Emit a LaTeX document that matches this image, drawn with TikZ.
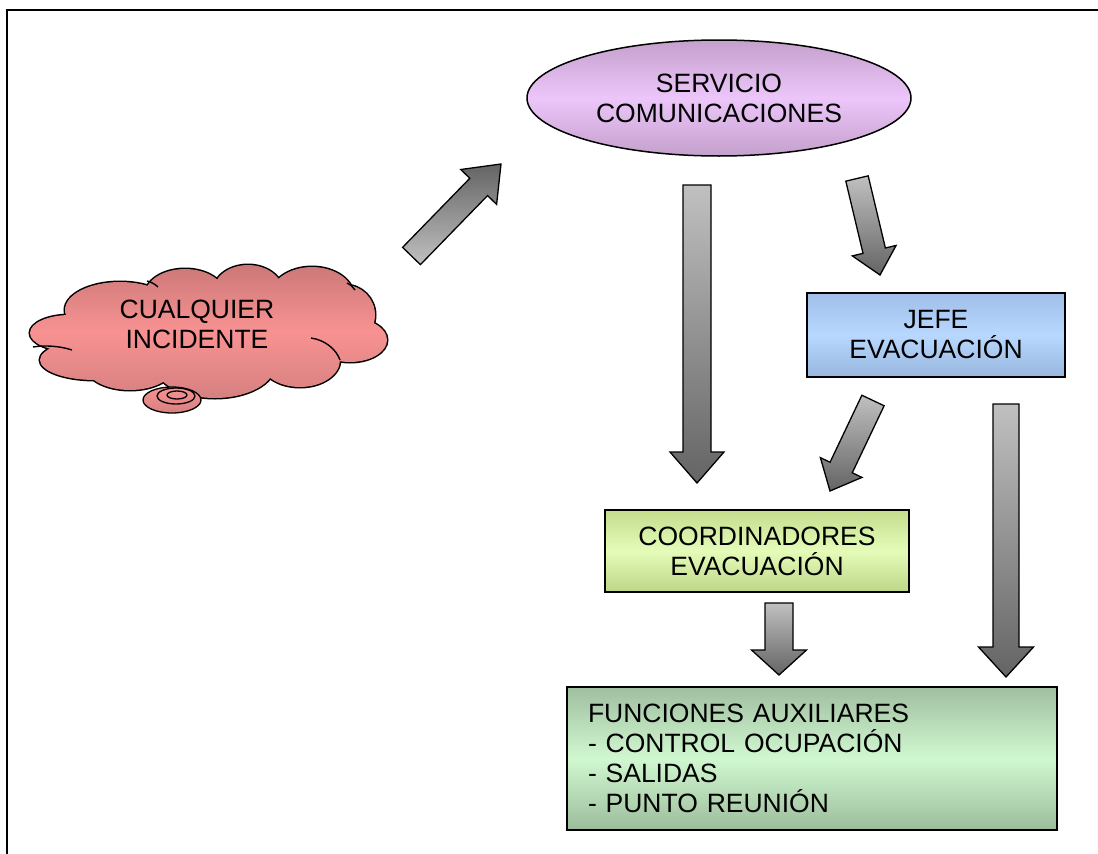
\documentclass[tikz,border=0pt]{standalone}
\usepackage{fontspec}
\setmainfont{Liberation Sans}
\usetikzlibrary{shapes.geometric,calc}
\definecolor{elltop}{RGB}{196,160,204}
\definecolor{ellmid}{RGB}{236,198,250}
\definecolor{cldtop}{RGB}{204,120,120}
\definecolor{cldmid}{RGB}{248,146,146}
\definecolor{cldbot}{RGB}{214,128,128}
\definecolor{jeftop}{RGB}{160,190,232}
\definecolor{jefmid}{RGB}{184,216,255}
\definecolor{jefbot}{RGB}{152,182,222}
\definecolor{cootop}{RGB}{196,220,140}
\definecolor{coomid}{RGB}{228,252,184}
\definecolor{coobot}{RGB}{190,214,136}
\definecolor{funtop}{RGB}{160,190,160}
\definecolor{funmid}{RGB}{208,248,208}
\definecolor{funbot}{RGB}{156,188,156}
\definecolor{arlight}{RGB}{192,192,192}
\definecolor{ardark}{RGB}{100,100,100}
\tikzset{
  txt/.style={font=\fontsize{26.5}{30}\selectfont, align=center},
  boxstyle/.style={draw=black, line width=1.5pt, rectangle, inner sep=0pt, txt},
  barrow/.style={draw=black, line width=1.3pt, line join=miter, top color=arlight, bottom color=ardark},
  barrowup/.style={draw=black, line width=1.3pt, line join=miter, top color=ardark, bottom color=arlight},
  cloudlobes/.style={insert path={
    (70,333) ellipse [x radius=40pt, y radius=18pt]
    (95,360) ellipse [x radius=55pt, y radius=20pt]
    (120,310) ellipse [x radius=55pt, y radius=28pt]
    (185,295) ellipse [x radius=40pt, y radius=26pt]
    (248,292) ellipse [x radius=35pt, y radius=27pt]
    (312,297) ellipse [x radius=42pt, y radius=30pt]
    (345,315) ellipse [x radius=30pt, y radius=30pt]
    (350,340) ellipse [x radius=37pt, y radius=22pt]
    (300,360) ellipse [x radius=40pt, y radius=27pt]
    (215,365) ellipse [x radius=60pt, y radius=33pt]
    (130,365) ellipse [x radius=45pt, y radius=25pt]
    (210,330) ellipse [x radius=130pt, y radius=45pt]
  }}
}
% #1 style, #2 tail coordinate, #3 tip coordinate, #4 shaft half width, #5 head half width, #6 head length
\newcommand\blockarrow[6][barrow]{%
  \coordinate (#2b) at ($(#3)!#6!(#2)$);
  \path[#1] ($(#2)!#4!90:(#3)$) -- ($(#2b)!#4!90:(#3)$) -- ($(#2b)!#5!90:(#3)$) -- (#3)
    -- ($(#2b)!#5!-90:(#3)$) -- ($(#2b)!#4!-90:(#3)$) -- ($(#2)!#4!-90:(#3)$) -- cycle;
}
\begin{document}
\begin{tikzpicture}[x=1pt,y=-1pt]
\useasboundingbox (0,0) rectangle (1098,854);
\fill[white] (0,0) rectangle (1098,854);
% frame
\draw[line width=2pt] (7,854) -- (7,10) -- (1098,10);

% cloud
\draw[line width=3pt] [cloudlobes];
\shade[top color=cldtop, bottom color=cldbot, middle color=cldmid] [cloudlobes];
\draw[line width=1.4pt] (33,347) .. controls (45,345) and (60,346) .. (72,350);
\draw[line width=1.4pt] (311,338) .. controls (325,340) and (336,349) .. (340,360);
\draw[line width=1.4pt] (147,281) .. controls (151,282) and (155,284) .. (158,287);
\draw[line width=1.4pt] (347,283) .. controls (351,285) and (353,287) .. (355,290);
\shade[draw=black, line width=1.3pt, top color=cldmid, bottom color=cldbot] (172,400) ellipse [x radius=29pt, y radius=13pt];
\draw[line width=1.3pt] (176,396) ellipse [x radius=19pt, y radius=8pt];
\draw[line width=1.3pt] (177,395) ellipse [x radius=10pt, y radius=4pt];
\node[txt] (incidente) at (197,324) {CUALQUIER\\INCIDENTE};

% nodes
\node[ellipse, draw=black, line width=1.5pt, inner sep=0pt, minimum width=384pt, minimum height=116pt,
      top color=elltop, bottom color=elltop, middle color=ellmid, txt] (servicio) at (719,98) {SERVICIO\\COMUNICACIONES};
\node[boxstyle, minimum width=258pt, minimum height=84pt, top color=jeftop, bottom color=jefbot, middle color=jefmid] (jefe) at (936,335) {JEFE\\EVACUACIÓN};
\node[boxstyle, minimum width=304pt, minimum height=82pt, top color=cootop, bottom color=coobot, middle color=coomid] (coord) at (757,551) {COORDINADORES\\EVACUACIÓN};
\node[boxstyle, minimum width=490pt, minimum height=143pt, top color=funtop, bottom color=funbot, middle color=funmid,
      align=left, text width=448pt, inner xsep=21pt] (func) at (812,758.5) {FUNCIONES AUXILIARES\\- CONTROL OCUPACIÓN\\- SALIDAS\\- PUNTO REUNIÓN};

% arrows
\coordinate (a1t) at (411.5,256);  \coordinate (a1p) at (501,164);
\coordinate (a2t) at (697,185);    \coordinate (a2p) at (697,483);
\coordinate (a3t) at (857,178.5);  \coordinate (a3p) at (880,275);
\coordinate (a4t) at (873,400.5);  \coordinate (a4p) at (830,491);
\coordinate (a5t) at (1006,404);   \coordinate (a5p) at (1006,677);
\coordinate (a6t) at (779,603);    \coordinate (a6p) at (779,675);
\blockarrow[barrowup]{a1t}{a1p}{12.4pt}{25pt}{32pt}
\blockarrow{a2t}{a2p}{14pt}{27pt}{31pt}
\blockarrow{a3t}{a3p}{11.5pt}{22.5pt}{25pt}
\blockarrow{a4t}{a4p}{12.3pt}{23pt}{26pt}
\blockarrow{a5t}{a5p}{13pt}{27.5pt}{30pt}
\blockarrow{a6t}{a6p}{14pt}{27.5pt}{25pt}
\end{tikzpicture}
\end{document}
